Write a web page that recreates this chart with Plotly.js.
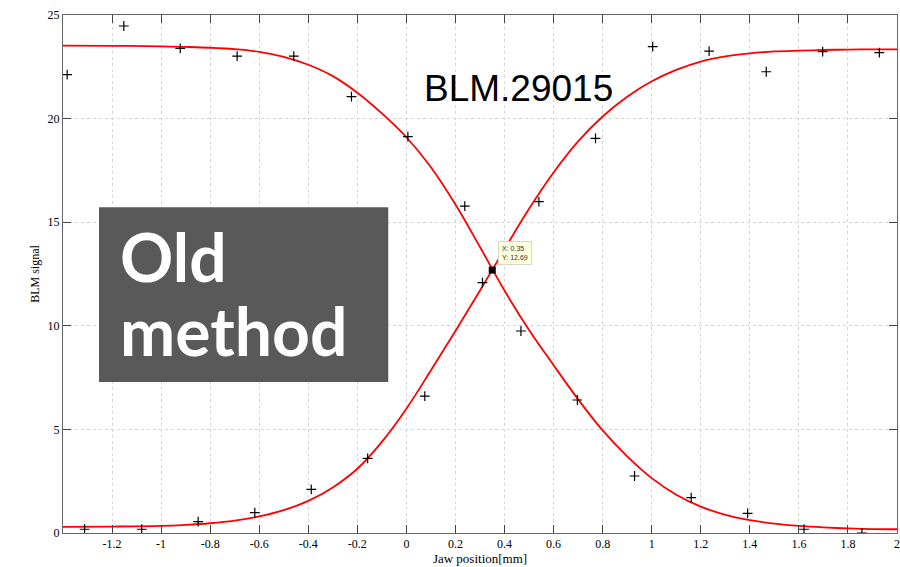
<!DOCTYPE html>
<html>
<head>
<meta charset="utf-8">
<script src="https://cdn.plot.ly/plotly-3.0.1.min.js"></script>
<style>html,body{margin:0;padding:0;background:#fff;}#chart{width:900px;height:567px;}</style>
</head>
<body>
<div id="chart"></div>
<script>
// Measured BLM signal points
const fallX = [-1.383, -1.152, -0.922, -0.69, -0.459, -0.224, 0.006, 0.238, 0.467, 0.697, 0.930, 1.161, 1.391, 1.621, 1.857];
const fallY = [22.12, 24.47, 23.39, 23.02, 23.02, 21.06, 19.13, 15.78, 9.75, 6.42, 2.75, 1.71, 0.95, 0.18, 0.0];
const riseX = [-1.312, -1.079, -0.849, -0.618, -0.388, -0.158, 0.075, 0.31, 0.54, 0.771, 1.004, 1.234, 1.467, 1.697, 1.928];
const riseY = [0.18, 0.18, 0.55, 0.98, 2.11, 3.6, 6.61, 12.08, 15.99, 19.05, 23.47, 23.26, 22.26, 23.23, 23.18];

// Fitted curves
const fitFallX = [-1.4, -1.2, -1.0, -0.9, -0.8, -0.7, -0.6, -0.5, -0.4, -0.3, -0.2, -0.1, 0, 0.1, 0.2, 0.3, 0.4, 0.5, 0.6, 0.7, 0.8, 0.9, 1.0, 1.1, 1.2, 1.3, 1.4, 1.5, 1.6, 1.7, 1.8, 1.9, 2.0];
const fitFallY = [23.52, 23.51, 23.49, 23.46, 23.42, 23.35, 23.22, 22.98, 22.6, 22.05, 21.25, 20.25, 19.1, 17.65, 15.85, 13.8, 11.7, 9.8, 8.1, 6.45, 4.95, 3.7, 2.65, 1.85, 1.27, 0.88, 0.62, 0.45, 0.34, 0.27, 0.22, 0.19, 0.18];
const fitRiseX = [-1.4, -1.2, -1.0, -0.9, -0.8, -0.7, -0.6, -0.5, -0.4, -0.3, -0.2, -0.1, 0, 0.1, 0.2, 0.3, 0.4, 0.5, 0.6, 0.7, 0.8, 0.9, 1.0, 1.1, 1.2, 1.3, 1.4, 1.5, 1.6, 1.7, 1.8, 1.9, 2.0];
const fitRiseY = [0.3, 0.31, 0.34, 0.39, 0.47, 0.6, 0.8, 1.1, 1.55, 2.2, 3.1, 4.4, 6.0, 7.85, 9.75, 11.7, 13.7, 15.65, 17.4, 18.9, 20.1, 21.05, 21.8, 22.35, 22.75, 23.0, 23.15, 23.24, 23.28, 23.31, 23.33, 23.34, 23.34];

// Data tip
const tipX = [0.35];
const tipY = [12.69];

// Ticks
const xTickVals = [-1.2, -1.0, -0.8, -0.6, -0.4, -0.2, 0, 0.2, 0.4, 0.6, 0.8, 1.0, 1.2, 1.4, 1.6, 1.8, 2.0];
const xTickText = ["-1.2", "-1", "-0.8", "-0.6", "-0.4", "-0.2", "0", "0.2", "0.4", "0.6", "0.8", "1", "1.2", "1.4", "1.6", "1.8", "2"];
const yTickVals = [0, 5, 10, 15, 20, 25];
const yTickText = ["0", "5", "10", "15", "20", "25"];

const tickFont = {family: "Liberation Serif, Times New Roman, serif", size: 12, color: "#000"};

const traces = [
  {x: fitFallX, y: fitFallY, mode: "lines", line: {color: "#ff0000", width: 1.8, shape: "spline", smoothing: 1}, hoverinfo: "skip"},
  {x: fitRiseX, y: fitRiseY, mode: "lines", line: {color: "#ff0000", width: 1.8, shape: "spline", smoothing: 1}, hoverinfo: "skip"},
  {x: fallX, y: fallY, mode: "markers", marker: {symbol: "cross-thin", size: 7, line: {color: "#000", width: 1.2}}},
  {x: riseX, y: riseY, mode: "markers", marker: {symbol: "cross-thin", size: 7, line: {color: "#000", width: 1.2}}},
  {x: tipX, y: tipY, mode: "markers", marker: {symbol: "square", size: 7, color: "#000"}}
];

const axisCommon = {
  showline: true, linecolor: "#666", linewidth: 1, mirror: "ticks",
  ticks: "inside", tickcolor: "#444", ticklen: 8, tickwidth: 1,
  showgrid: true, gridcolor: "#d6d6d6", griddash: "dot", gridwidth: 1,
  zeroline: false, tickfont: tickFont, tickmode: "array"
};

const layout = {
  width: 900, height: 567,
  margin: {l: 63, r: 3, t: 15, b: 34},
  paper_bgcolor: "#fff", plot_bgcolor: "#fff",
  showlegend: false,
  xaxis: Object.assign({}, axisCommon, {
    range: [-1.4, 2], tickvals: xTickVals, ticktext: xTickText,
    title: {text: "Jaw position[mm]", font: {family: "Liberation Serif, Times New Roman, serif", size: 13, color: "#000"}, standoff: 3}
  }),
  yaxis: Object.assign({}, axisCommon, {
    range: [0, 25], tickvals: yTickVals, ticktext: yTickText,
    title: {text: "BLM signal", font: {family: "Liberation Serif, Times New Roman, serif", size: 12, color: "#000"}, standoff: 5}
  }),
  shapes: [
    {type: "rect", xref: "paper", yref: "paper", x0: 0.0432, x1: 0.390, y0: 0.2915, y1: 0.629,
     fillcolor: "#595959", line: {width: 0}, layer: "above"}
  ],
  annotations: [
    {xref: "paper", yref: "paper", x: 0.546, y: 0.859, text: "BLM.29015", showarrow: false,
     xanchor: "center", yanchor: "middle",
     font: {family: "Liberation Sans, Arial, sans-serif", size: 37, color: "#000"}},
    {xref: "paper", yref: "paper", x: 0.066, y: 0.533, text: "Old", showarrow: false,
     xanchor: "left", yanchor: "middle",
     font: {family: "Lato, sans-serif", size: 66, color: "#fff", weight: "bold"}},
    {xref: "paper", yref: "paper", x: 0.066, y: 0.390, text: "method", showarrow: false,
     xanchor: "left", yanchor: "middle",
     font: {family: "Lato, sans-serif", size: 66, color: "#fff", weight: "bold"}},
    {xref: "x", yref: "y", x: 0.372, y: 14.09, text: "X: 0.35<br>Y: 12.69", showarrow: false,
     xanchor: "left", yanchor: "top", align: "left",
     bgcolor: "#ffffe1", bordercolor: "#d8d8c0", borderwidth: 1, borderpad: 3,
     font: {family: "Liberation Sans, Arial, sans-serif", size: 7, color: "#333"}}
  ]
};

Plotly.newPlot("chart", traces, layout, {staticPlot: true, displayModeBar: false});
</script>
</body>
</html>
